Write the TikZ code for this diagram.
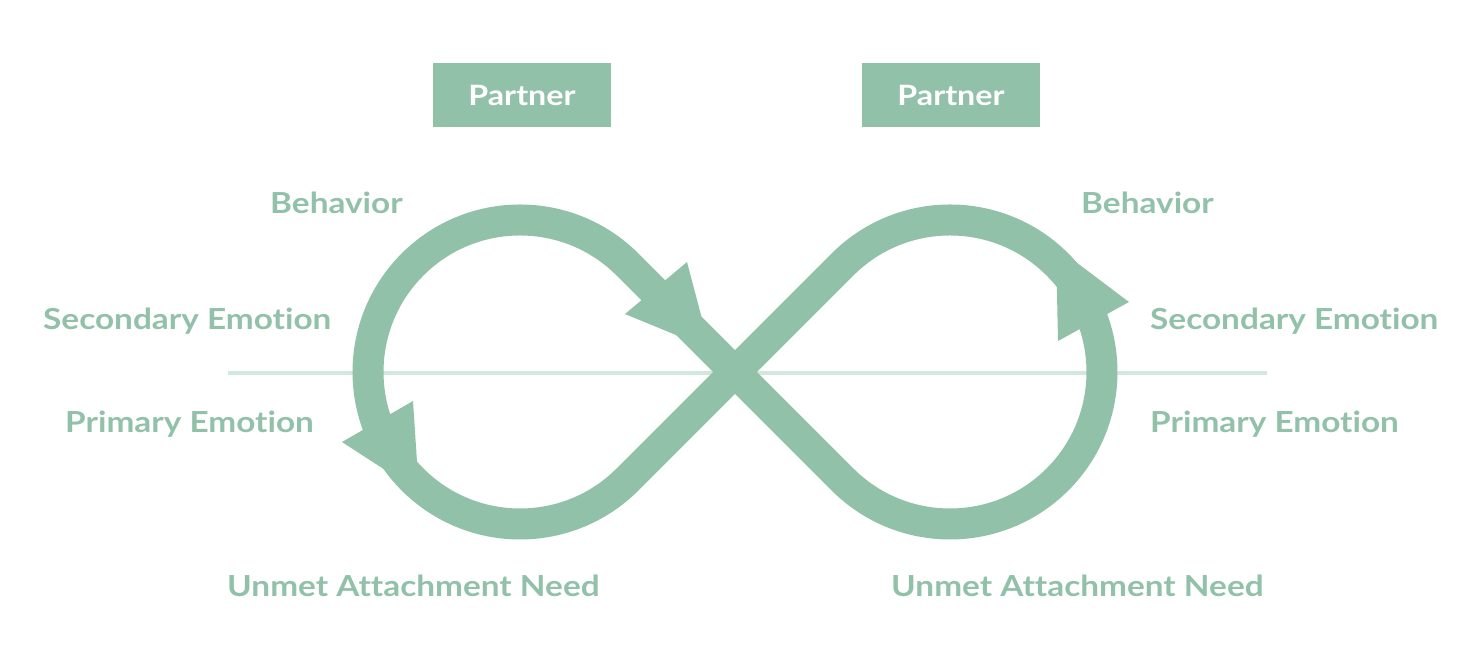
\documentclass[tikz,border=0pt]{standalone}
\usepackage{fontspec}
\setmainfont{Lato Bold}[FakeStretch=1.15,Ligatures=NoCommon]
\definecolor{mint}{RGB}{146,193,170}
\definecolor{mintlight}{RGB}{210,231,221}
\begin{document}
\begin{tikzpicture}[x=1pt,y=-1pt,
  lbl/.style={anchor=base west,inner sep=0pt,text=mint,font=\fontsize{29}{29}\selectfont},
  partnerbox/.style={fill=mint,text=white,minimum width=178pt,minimum height=64pt,inner sep=0pt,font=\fontsize{28}{28}\selectfont},
  band/.style={draw=mint,line width=31pt,line join=round},
  head/.style={fill=mint,draw=none}]
\useasboundingbox (0,0) rectangle (1462,672);
% horizontal divider
\coordinate (hl) at (228,373);
\coordinate (hr) at (1267,373);
\draw[mintlight,line width=4pt] (hl) -- (hr);
% infinity band
\coordinate (lc) at (520,372);
\coordinate (rc) at (950,372);
\coordinate (x) at (735,372);
\draw[band] (627.5,264.5) arc[start angle=-45,end angle=-315,radius=152]
  -- (842.5,264.5) arc[start angle=-135,end angle=135,radius=152] -- cycle;
% arrowheads
\fill[head] (687,262) -- (710,349) -- (625,314) -- cycle;
\fill[head] (413,401) -- (419,492) -- (342,442) -- cycle;
\fill[head] (1129,302) -- (1056,247) -- (1058,341) -- cycle;
% partner boxes
\node[partnerbox] (p1) at (522,95) {Partner};
\node[partnerbox] (p2) at (951,95) {Partner};
% labels left
\node[lbl] (b1) at (270,213) {Behavior};
\node[lbl] (s1) at (43,329) {Secondary Emotion};
\node[lbl] (e1) at (65,432) {Primary Emotion};
\node[lbl] (u1) at (227,596) {Unmet Attachment Need};
% labels right
\node[lbl] (b2) at (1081,213) {Behavior};
\node[lbl] (s2) at (1150,329) {Secondary Emotion};
\node[lbl] (e2) at (1150,432) {Primary Emotion};
\node[lbl] (u2) at (891,596) {Unmet Attachment Need};
\end{tikzpicture}
\end{document}
